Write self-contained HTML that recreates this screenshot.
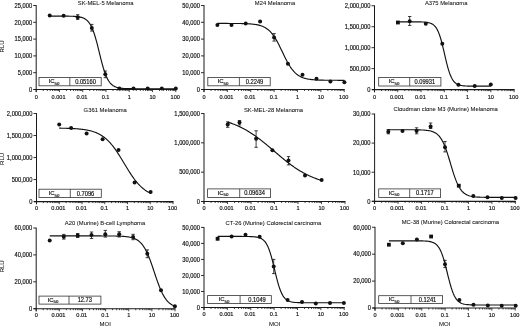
<!DOCTYPE html><html><head><meta charset="utf-8"><style>html,body{margin:0;padding:0;background:#fff;}svg{display:block;will-change:transform;} text{fill:#111;stroke:#111;stroke-width:0.18px;} text.t{stroke-width:0.06px;}</style></head><body>
<svg width="520" height="326" viewBox="0 0 520 326" font-family='"Liberation Sans", sans-serif' stroke-linejoin="round">
<rect width="520" height="326" fill="#fff"/>
<g>
<g><text class="t" transform="translate(105.7 4.75) scale(1 1)" font-size="5.85" text-anchor="middle">SK-MEL-5 Melanoma</text><path d="M36.2 5.1V92.1" stroke="#1a1a1a" stroke-width="1.0" fill="none"/><path d="M33.2 89.5H36.2" stroke="#1a1a1a" stroke-width="0.9"/><text transform="translate(32.1 91.8) scale(0.9 1)" font-size="6.39" text-anchor="end">0</text><path d="M33.2 72.7H36.2" stroke="#1a1a1a" stroke-width="0.9"/><text transform="translate(32.1 75) scale(0.9 1)" font-size="6.39" text-anchor="end">5,000</text><path d="M33.2 55.9H36.2" stroke="#1a1a1a" stroke-width="0.9"/><text transform="translate(32.1 58.2) scale(0.9 1)" font-size="6.39" text-anchor="end">10,000</text><path d="M33.2 39.1H36.2" stroke="#1a1a1a" stroke-width="0.9"/><text transform="translate(32.1 41.4) scale(0.9 1)" font-size="6.39" text-anchor="end">15,000</text><path d="M33.2 22.3H36.2" stroke="#1a1a1a" stroke-width="0.9"/><text transform="translate(32.1 24.6) scale(0.9 1)" font-size="6.39" text-anchor="end">20,000</text><path d="M33.2 5.5H36.2" stroke="#1a1a1a" stroke-width="0.9"/><text transform="translate(32.1 7.8) scale(0.9 1)" font-size="6.39" text-anchor="end">25,000</text><path d="M33.7 89.5H176.26" stroke="#1a1a1a" stroke-width="1.05" fill="none"/><path d="M36.2 89.5v2.6M43.2 89.5v1.5M47.3 89.5v1.5M50.2 89.5v1.5M52.46 89.5v1.5M54.3 89.5v1.5M55.86 89.5v1.5M57.21 89.5v1.5M58.4 89.5v1.5M59.46 89.5v2.6M66.46 89.5v1.5M70.56 89.5v1.5M73.46 89.5v1.5M75.72 89.5v1.5M77.56 89.5v1.5M79.12 89.5v1.5M80.47 89.5v1.5M81.66 89.5v1.5M82.72 89.5v2.6M89.72 89.5v1.5M93.82 89.5v1.5M96.72 89.5v1.5M98.98 89.5v1.5M100.82 89.5v1.5M102.38 89.5v1.5M103.73 89.5v1.5M104.92 89.5v1.5M105.98 89.5v2.6M112.98 89.5v1.5M117.08 89.5v1.5M119.98 89.5v1.5M122.24 89.5v1.5M124.08 89.5v1.5M125.64 89.5v1.5M126.99 89.5v1.5M128.18 89.5v1.5M129.24 89.5v2.6M136.24 89.5v1.5M140.34 89.5v1.5M143.24 89.5v1.5M145.5 89.5v1.5M147.34 89.5v1.5M148.9 89.5v1.5M150.25 89.5v1.5M151.44 89.5v1.5M152.5 89.5v2.6M159.5 89.5v1.5M163.6 89.5v1.5M166.5 89.5v1.5M168.76 89.5v1.5M170.6 89.5v1.5M172.16 89.5v1.5M173.51 89.5v1.5M174.7 89.5v1.5M175.76 89.5v2.6" stroke="#1a1a1a" stroke-width="0.8" fill="none"/><text transform="translate(36.2 98.5) scale(0.9 1)" font-size="6.22" text-anchor="middle">0</text><text transform="translate(58.56 98.5) scale(0.9 1)" font-size="6.22" text-anchor="middle">0.001</text><text transform="translate(82.02 98.5) scale(0.9 1)" font-size="6.22" text-anchor="middle">0.01</text><text transform="translate(105.58 98.5) scale(0.9 1)" font-size="6.22" text-anchor="middle">0.1</text><text transform="translate(129.24 98.5) scale(0.9 1)" font-size="6.22" text-anchor="middle">1</text><text transform="translate(152.5 98.5) scale(0.9 1)" font-size="6.22" text-anchor="middle">10</text><text transform="translate(175.26 98.5) scale(0.9 1)" font-size="6.22" text-anchor="middle">100</text><rect x="39" y="77.5" width="62.2" height="8.3" fill="#fff" stroke="#333" stroke-width="0.8" stroke-linejoin="miter"/><path d="M69.8 77.5V85.8" stroke="#333" stroke-width="0.8"/><text x="54.01" y="83.25" font-size="5.9" text-anchor="middle">IC<tspan font-size="4.3" dy="1.6">50</tspan></text><text transform="translate(85.5 83.85) scale(0.9 1)" font-size="6.39" text-anchor="middle">0.05160</text><path d="M49.7 16.11L50.75 16.11L51.8 16.11L52.85 16.11L53.9 16.11L54.95 16.11L56.01 16.11L57.06 16.11L58.11 16.12L59.16 16.12L60.21 16.12L61.26 16.12L62.31 16.13L63.36 16.13L64.41 16.14L65.46 16.14L66.51 16.15L67.56 16.17L68.62 16.18L69.67 16.2L70.72 16.22L71.77 16.25L72.82 16.29L73.87 16.34L74.92 16.41L75.97 16.48L77.02 16.58L78.07 16.71L79.12 16.87L80.17 17.07L81.23 17.32L82.28 17.64L83.33 18.04L84.38 18.54L85.43 19.16L86.48 19.93L87.53 20.89L88.58 22.06L89.63 23.49L90.68 25.22L91.73 27.28L92.78 29.7L93.84 32.52L94.89 35.72L95.94 39.29L96.99 43.18L98.04 47.31L99.09 51.57L100.14 55.86L101.19 60.06L102.24 64.05L103.29 67.76L104.34 71.11L105.39 74.07L106.45 76.65L107.5 78.85L108.55 80.71L109.6 82.25L110.65 83.52L111.7 84.55L112.75 85.4L113.8 86.07L114.85 86.62L115.9 87.05L116.95 87.4L118 87.68L119.06 87.9L120.11 88.07L121.16 88.21L122.21 88.32L123.26 88.41L124.31 88.47L125.36 88.53L126.41 88.57L127.46 88.61L128.51 88.63L129.56 88.65L130.61 88.67L131.67 88.68L132.72 88.69L133.77 88.7L134.82 88.71L135.87 88.71L136.92 88.72L137.97 88.72L139.02 88.72L140.07 88.72L141.12 88.73L142.17 88.73L143.22 88.73L144.28 88.73L145.33 88.73L146.38 88.73L147.43 88.73L148.48 88.73L149.53 88.73L150.58 88.73L151.63 88.73L152.68 88.73L153.73 88.73L154.78 88.73L155.83 88.73L156.88 88.73L157.94 88.73L158.99 88.73L160.04 88.73L161.09 88.73L162.14 88.73L163.19 88.73L164.24 88.73L165.29 88.73L166.34 88.73L167.39 88.73L168.44 88.73L169.5 88.73L170.55 88.73L171.6 88.73L172.65 88.73L173.7 88.73L174.75 88.73L175.8 88.73" stroke="#111" stroke-width="1.15" fill="none"/><path d="M77.7 14.7V19.4M76 14.7h3.4M76 19.4h3.4" stroke="#111" stroke-width="0.8" fill="none"/><path d="M91.8 24.4V31.1M90.1 24.4h3.4M90.1 31.1h3.4" stroke="#111" stroke-width="0.8" fill="none"/><path d="M105.3 71V77.7M103.6 71h3.4M103.6 77.7h3.4" stroke="#111" stroke-width="0.8" fill="none"/><circle cx="49.7" cy="15.4" r="2.0" fill="#111"/><circle cx="63.6" cy="15.8" r="2.0" fill="#111"/><circle cx="77.7" cy="17.2" r="2.0" fill="#111"/><circle cx="91.8" cy="27.9" r="2.0" fill="#111"/><circle cx="105.3" cy="74.3" r="2.0" fill="#111"/><circle cx="119.4" cy="88.4" r="2.0" fill="#111"/><circle cx="133.5" cy="88.5" r="2.0" fill="#111"/><circle cx="147.7" cy="88.5" r="2.0" fill="#111"/><circle cx="161.8" cy="88.5" r="2.0" fill="#111"/><circle cx="175.8" cy="88.5" r="2.0" fill="#111"/></g>
<g><text class="t" transform="translate(275 4.75) scale(1 1)" font-size="5.85" text-anchor="middle">M24 Melanoma</text><path d="M204 5.1V92.1" stroke="#1a1a1a" stroke-width="1.0" fill="none"/><path d="M201 89.5H204" stroke="#1a1a1a" stroke-width="0.9"/><text transform="translate(199.9 91.8) scale(0.9 1)" font-size="6.39" text-anchor="end">0</text><path d="M201 72.7H204" stroke="#1a1a1a" stroke-width="0.9"/><text transform="translate(199.9 75) scale(0.9 1)" font-size="6.39" text-anchor="end">10,000</text><path d="M201 55.9H204" stroke="#1a1a1a" stroke-width="0.9"/><text transform="translate(199.9 58.2) scale(0.9 1)" font-size="6.39" text-anchor="end">20,000</text><path d="M201 39.1H204" stroke="#1a1a1a" stroke-width="0.9"/><text transform="translate(199.9 41.4) scale(0.9 1)" font-size="6.39" text-anchor="end">30,000</text><path d="M201 22.3H204" stroke="#1a1a1a" stroke-width="0.9"/><text transform="translate(199.9 24.6) scale(0.9 1)" font-size="6.39" text-anchor="end">40,000</text><path d="M201 5.5H204" stroke="#1a1a1a" stroke-width="0.9"/><text transform="translate(199.9 7.8) scale(0.9 1)" font-size="6.39" text-anchor="end">50,000</text><path d="M201.5 89.5H344.72" stroke="#1a1a1a" stroke-width="1.05" fill="none"/><path d="M204 89.5v2.6M211.04 89.5v1.5M215.15 89.5v1.5M218.07 89.5v1.5M220.33 89.5v1.5M222.19 89.5v1.5M223.75 89.5v1.5M225.11 89.5v1.5M226.3 89.5v1.5M227.37 89.5v2.6M234.41 89.5v1.5M238.52 89.5v1.5M241.44 89.5v1.5M243.7 89.5v1.5M245.56 89.5v1.5M247.12 89.5v1.5M248.48 89.5v1.5M249.67 89.5v1.5M250.74 89.5v2.6M257.78 89.5v1.5M261.89 89.5v1.5M264.81 89.5v1.5M267.07 89.5v1.5M268.93 89.5v1.5M270.49 89.5v1.5M271.85 89.5v1.5M273.04 89.5v1.5M274.11 89.5v2.6M281.15 89.5v1.5M285.26 89.5v1.5M288.18 89.5v1.5M290.44 89.5v1.5M292.3 89.5v1.5M293.86 89.5v1.5M295.22 89.5v1.5M296.41 89.5v1.5M297.48 89.5v2.6M304.52 89.5v1.5M308.63 89.5v1.5M311.55 89.5v1.5M313.81 89.5v1.5M315.67 89.5v1.5M317.23 89.5v1.5M318.59 89.5v1.5M319.78 89.5v1.5M320.85 89.5v2.6M327.89 89.5v1.5M332 89.5v1.5M334.92 89.5v1.5M337.18 89.5v1.5M339.04 89.5v1.5M340.6 89.5v1.5M341.96 89.5v1.5M343.15 89.5v1.5M344.22 89.5v2.6" stroke="#1a1a1a" stroke-width="0.8" fill="none"/><text transform="translate(204 98.5) scale(0.9 1)" font-size="6.22" text-anchor="middle">0</text><text transform="translate(226.47 98.5) scale(0.9 1)" font-size="6.22" text-anchor="middle">0.001</text><text transform="translate(250.04 98.5) scale(0.9 1)" font-size="6.22" text-anchor="middle">0.01</text><text transform="translate(273.71 98.5) scale(0.9 1)" font-size="6.22" text-anchor="middle">0.1</text><text transform="translate(297.48 98.5) scale(0.9 1)" font-size="6.22" text-anchor="middle">1</text><text transform="translate(320.85 98.5) scale(0.9 1)" font-size="6.22" text-anchor="middle">10</text><text transform="translate(343.72 98.5) scale(0.9 1)" font-size="6.22" text-anchor="middle">100</text><rect x="207.8" y="77.5" width="62.4" height="8.3" fill="#fff" stroke="#333" stroke-width="0.8" stroke-linejoin="miter"/><path d="M239.4 77.5V85.8" stroke="#333" stroke-width="0.8"/><text x="223.01" y="83.25" font-size="5.9" text-anchor="middle">IC<tspan font-size="4.3" dy="1.6">50</tspan></text><text transform="translate(254.5 83.85) scale(0.9 1)" font-size="6.39" text-anchor="middle">0.2249</text><path d="M217.4 23.43L218.46 23.43L219.52 23.43L220.58 23.43L221.63 23.43L222.69 23.43L223.75 23.43L224.81 23.44L225.87 23.44L226.93 23.44L227.98 23.44L229.04 23.45L230.1 23.45L231.16 23.45L232.22 23.46L233.28 23.47L234.33 23.47L235.39 23.48L236.45 23.49L237.51 23.5L238.57 23.51L239.62 23.53L240.68 23.55L241.74 23.57L242.8 23.59L243.86 23.62L244.92 23.65L245.97 23.69L247.03 23.74L248.09 23.79L249.15 23.85L250.21 23.92L251.27 24.01L252.32 24.1L253.38 24.22L254.44 24.35L255.5 24.5L256.56 24.68L257.62 24.88L258.68 25.12L259.73 25.4L260.79 25.72L261.85 26.08L262.91 26.51L263.97 27L265.02 27.55L266.08 28.19L267.14 28.92L268.2 29.74L269.26 30.67L270.32 31.71L271.38 32.88L272.43 34.17L273.49 35.59L274.55 37.15L275.61 38.84L276.67 40.65L277.72 42.57L278.78 44.6L279.84 46.71L280.9 48.88L281.96 51.08L283.02 53.29L284.07 55.49L285.13 57.64L286.19 59.73L287.25 61.73L288.31 63.62L289.37 65.4L290.43 67.05L291.48 68.57L292.54 69.95L293.6 71.21L294.66 72.34L295.72 73.35L296.77 74.24L297.83 75.04L298.89 75.74L299.95 76.35L301.01 76.89L302.07 77.36L303.12 77.77L304.18 78.12L305.24 78.43L306.3 78.69L307.36 78.92L308.42 79.12L309.48 79.29L310.53 79.43L311.59 79.56L312.65 79.67L313.71 79.76L314.77 79.84L315.82 79.91L316.88 79.97L317.94 80.02L319 80.06L320.06 80.1L321.12 80.13L322.17 80.15L323.23 80.18L324.29 80.2L325.35 80.21L326.41 80.23L327.47 80.24L328.52 80.25L329.58 80.26L330.64 80.27L331.7 80.28L332.76 80.28L333.82 80.29L334.88 80.29L335.93 80.29L336.99 80.3L338.05 80.3L339.11 80.3L340.17 80.3L341.22 80.31L342.28 80.31L343.34 80.31L344.4 80.31" stroke="#111" stroke-width="1.15" fill="none"/><path d="M274.1 33.6V41.1M272.4 33.6h3.4M272.4 41.1h3.4" stroke="#111" stroke-width="0.8" fill="none"/><circle cx="217.4" cy="25.1" r="2.0" fill="#111"/><circle cx="231.5" cy="25.1" r="2.0" fill="#111"/><circle cx="245.7" cy="23.5" r="2.0" fill="#111"/><circle cx="260.1" cy="21.4" r="2.0" fill="#111"/><circle cx="274.1" cy="37.4" r="2.0" fill="#111"/><circle cx="287.9" cy="63.7" r="2.0" fill="#111"/><circle cx="302.5" cy="74.8" r="2.0" fill="#111"/><circle cx="316.5" cy="78.7" r="2.0" fill="#111"/><circle cx="330.4" cy="81.5" r="2.0" fill="#111"/><circle cx="344.4" cy="82.3" r="2.0" fill="#111"/></g>
<g><text class="t" transform="translate(446.2 4.75) scale(1 1)" font-size="5.85" text-anchor="middle">A375 Melanoma</text><path d="M374.5 5.35V92.2" stroke="#1a1a1a" stroke-width="1.0" fill="none"/><path d="M371.5 89.6H374.5" stroke="#1a1a1a" stroke-width="0.9"/><text transform="translate(370.4 91.9) scale(0.9 1)" font-size="6.39" text-anchor="end">0</text><path d="M371.5 68.64H374.5" stroke="#1a1a1a" stroke-width="0.9"/><text transform="translate(370.4 70.94) scale(0.9 1)" font-size="6.39" text-anchor="end">500,000</text><path d="M371.5 47.67H374.5" stroke="#1a1a1a" stroke-width="0.9"/><text transform="translate(370.4 49.97) scale(0.9 1)" font-size="6.39" text-anchor="end">1,000,000</text><path d="M371.5 26.71H374.5" stroke="#1a1a1a" stroke-width="0.9"/><text transform="translate(370.4 29.01) scale(0.9 1)" font-size="6.39" text-anchor="end">1,500,000</text><path d="M371.5 5.75H374.5" stroke="#1a1a1a" stroke-width="0.9"/><text transform="translate(370.4 8.05) scale(0.9 1)" font-size="6.39" text-anchor="end">2,000,000</text><path d="M372 89.6H514.62" stroke="#1a1a1a" stroke-width="1.05" fill="none"/><path d="M374.5 89.6v2.6M381.5 89.6v1.5M385.6 89.6v1.5M388.51 89.6v1.5M390.77 89.6v1.5M392.61 89.6v1.5M394.17 89.6v1.5M395.51 89.6v1.5M396.71 89.6v1.5M397.77 89.6v2.6M404.77 89.6v1.5M408.87 89.6v1.5M411.78 89.6v1.5M414.04 89.6v1.5M415.88 89.6v1.5M417.44 89.6v1.5M418.78 89.6v1.5M419.98 89.6v1.5M421.04 89.6v2.6M428.04 89.6v1.5M432.14 89.6v1.5M435.05 89.6v1.5M437.31 89.6v1.5M439.15 89.6v1.5M440.71 89.6v1.5M442.05 89.6v1.5M443.25 89.6v1.5M444.31 89.6v2.6M451.31 89.6v1.5M455.41 89.6v1.5M458.32 89.6v1.5M460.58 89.6v1.5M462.42 89.6v1.5M463.98 89.6v1.5M465.32 89.6v1.5M466.52 89.6v1.5M467.58 89.6v2.6M474.58 89.6v1.5M478.68 89.6v1.5M481.59 89.6v1.5M483.85 89.6v1.5M485.69 89.6v1.5M487.25 89.6v1.5M488.59 89.6v1.5M489.79 89.6v1.5M490.85 89.6v2.6M497.85 89.6v1.5M501.95 89.6v1.5M504.86 89.6v1.5M507.12 89.6v1.5M508.96 89.6v1.5M510.52 89.6v1.5M511.86 89.6v1.5M513.06 89.6v1.5M514.12 89.6v2.6" stroke="#1a1a1a" stroke-width="0.8" fill="none"/><text transform="translate(374.5 98.6) scale(0.9 1)" font-size="6.22" text-anchor="middle">0</text><text transform="translate(396.87 98.6) scale(0.9 1)" font-size="6.22" text-anchor="middle">0.001</text><text transform="translate(420.34 98.6) scale(0.9 1)" font-size="6.22" text-anchor="middle">0.01</text><text transform="translate(443.91 98.6) scale(0.9 1)" font-size="6.22" text-anchor="middle">0.1</text><text transform="translate(467.58 98.6) scale(0.9 1)" font-size="6.22" text-anchor="middle">1</text><text transform="translate(490.85 98.6) scale(0.9 1)" font-size="6.22" text-anchor="middle">10</text><text transform="translate(513.62 98.6) scale(0.9 1)" font-size="6.22" text-anchor="middle">100</text><rect x="378.7" y="77.4" width="62.2" height="8.6" fill="#fff" stroke="#333" stroke-width="0.8" stroke-linejoin="miter"/><path d="M409.7 77.4V86" stroke="#333" stroke-width="0.8"/><text x="394.01" y="83.3" font-size="5.9" text-anchor="middle">IC<tspan font-size="4.3" dy="1.6">50</tspan></text><text transform="translate(424.8 83.9) scale(0.9 1)" font-size="6.39" text-anchor="middle">0.09931</text><path d="M397.9 21.82L398.67 21.82L399.45 21.82L400.22 21.82L401 21.82L401.77 21.82L402.54 21.82L403.32 21.82L404.09 21.82L404.87 21.82L405.64 21.82L406.42 21.82L407.19 21.82L407.96 21.83L408.74 21.83L409.51 21.83L410.29 21.83L411.06 21.83L411.83 21.83L412.61 21.83L413.38 21.84L414.16 21.84L414.93 21.84L415.71 21.85L416.48 21.85L417.25 21.86L418.03 21.87L418.8 21.88L419.58 21.9L420.35 21.91L421.12 21.93L421.9 21.96L422.67 21.99L423.45 22.03L424.22 22.08L425 22.14L425.77 22.22L426.54 22.31L427.32 22.42L428.09 22.56L428.87 22.73L429.64 22.94L430.41 23.19L431.19 23.5L431.96 23.88L432.74 24.34L433.51 24.9L434.29 25.58L435.06 26.39L435.83 27.37L436.61 28.53L437.38 29.9L438.16 31.5L438.93 33.36L439.7 35.48L440.48 37.87L441.25 40.53L442.03 43.43L442.8 46.54L443.58 49.8L444.35 53.15L445.12 56.53L445.9 59.84L446.67 63.04L447.45 66.05L448.22 68.83L449 71.36L449.77 73.62L450.54 75.61L451.32 77.34L452.09 78.82L452.87 80.08L453.64 81.15L454.41 82.04L455.19 82.78L455.96 83.4L456.74 83.91L457.51 84.33L458.28 84.67L459.06 84.96L459.83 85.19L460.61 85.37L461.38 85.53L462.16 85.65L462.93 85.75L463.7 85.84L464.48 85.9L465.25 85.96L466.03 86L466.8 86.04L467.57 86.07L468.35 86.09L469.12 86.11L469.9 86.12L470.67 86.14L471.45 86.15L472.22 86.16L472.99 86.16L473.77 86.17L474.54 86.17L475.32 86.18L476.09 86.18L476.87 86.18L477.64 86.18L478.41 86.18L479.19 86.19L479.96 86.19L480.74 86.19L481.51 86.19L482.28 86.19L483.06 86.19L483.83 86.19L484.61 86.19L485.38 86.19L486.16 86.19L486.93 86.19L487.7 86.19L488.48 86.19L489.25 86.19L490.03 86.19L490.8 86.19" stroke="#111" stroke-width="1.15" fill="none"/><path d="M409.7 16.5V25.4M408 16.5h3.4M408 25.4h3.4" stroke="#111" stroke-width="0.8" fill="none"/><rect x="396" y="20.6" width="3.8" height="3.8" fill="#111"/><circle cx="409.7" cy="21.25" r="2.0" fill="#111"/><circle cx="425.8" cy="23.8" r="2.0" fill="#111"/><circle cx="442.3" cy="43.7" r="2.0" fill="#111"/><circle cx="458.4" cy="84.8" r="2.0" fill="#111"/><circle cx="474.7" cy="86" r="2.0" fill="#111"/><circle cx="490.8" cy="84.4" r="2.0" fill="#111"/></g>
<g><text class="t" transform="translate(105.2 112.4) scale(1 1)" font-size="5.85" text-anchor="middle">G361 Melanoma</text><path d="M36.5 113.1V204.2" stroke="#1a1a1a" stroke-width="1.0" fill="none"/><path d="M33.5 201.6H36.5" stroke="#1a1a1a" stroke-width="0.9"/><text transform="translate(32.4 203.9) scale(0.9 1)" font-size="6.39" text-anchor="end">0</text><path d="M33.5 179.57H36.5" stroke="#1a1a1a" stroke-width="0.9"/><text transform="translate(32.4 181.88) scale(0.9 1)" font-size="6.39" text-anchor="end">500,000</text><path d="M33.5 157.55H36.5" stroke="#1a1a1a" stroke-width="0.9"/><text transform="translate(32.4 159.85) scale(0.9 1)" font-size="6.39" text-anchor="end">1,000,000</text><path d="M33.5 135.53H36.5" stroke="#1a1a1a" stroke-width="0.9"/><text transform="translate(32.4 137.83) scale(0.9 1)" font-size="6.39" text-anchor="end">1,500,000</text><path d="M33.5 113.5H36.5" stroke="#1a1a1a" stroke-width="0.9"/><text transform="translate(32.4 115.8) scale(0.9 1)" font-size="6.39" text-anchor="end">2,000,000</text><path d="M34 201.6H173.5" stroke="#1a1a1a" stroke-width="1.05" fill="none"/><path d="M36.5 201.6v2.6M43.35 201.6v1.5M47.35 201.6v1.5M50.2 201.6v1.5M52.4 201.6v1.5M54.2 201.6v1.5M55.73 201.6v1.5M57.05 201.6v1.5M58.21 201.6v1.5M59.25 201.6v2.6M66.1 201.6v1.5M70.1 201.6v1.5M72.95 201.6v1.5M75.15 201.6v1.5M76.95 201.6v1.5M78.48 201.6v1.5M79.8 201.6v1.5M80.96 201.6v1.5M82 201.6v2.6M88.85 201.6v1.5M92.85 201.6v1.5M95.7 201.6v1.5M97.9 201.6v1.5M99.7 201.6v1.5M101.23 201.6v1.5M102.55 201.6v1.5M103.71 201.6v1.5M104.75 201.6v2.6M111.6 201.6v1.5M115.6 201.6v1.5M118.45 201.6v1.5M120.65 201.6v1.5M122.45 201.6v1.5M123.98 201.6v1.5M125.3 201.6v1.5M126.46 201.6v1.5M127.5 201.6v2.6M134.35 201.6v1.5M138.35 201.6v1.5M141.2 201.6v1.5M143.4 201.6v1.5M145.2 201.6v1.5M146.73 201.6v1.5M148.05 201.6v1.5M149.21 201.6v1.5M150.25 201.6v2.6M157.1 201.6v1.5M161.1 201.6v1.5M163.95 201.6v1.5M166.15 201.6v1.5M167.95 201.6v1.5M169.48 201.6v1.5M170.8 201.6v1.5M171.96 201.6v1.5M173 201.6v2.6" stroke="#1a1a1a" stroke-width="0.8" fill="none"/><text transform="translate(36.5 210.05) scale(0.9 1)" font-size="6.22" text-anchor="middle">0</text><text transform="translate(58.35 210.05) scale(0.9 1)" font-size="6.22" text-anchor="middle">0.001</text><text transform="translate(81.3 210.05) scale(0.9 1)" font-size="6.22" text-anchor="middle">0.01</text><text transform="translate(104.35 210.05) scale(0.9 1)" font-size="6.22" text-anchor="middle">0.1</text><text transform="translate(127.5 210.05) scale(0.9 1)" font-size="6.22" text-anchor="middle">1</text><text transform="translate(150.25 210.05) scale(0.9 1)" font-size="6.22" text-anchor="middle">10</text><text transform="translate(172.5 210.05) scale(0.9 1)" font-size="6.22" text-anchor="middle">100</text><rect x="39" y="189.2" width="62.3" height="8.3" fill="#fff" stroke="#333" stroke-width="0.8" stroke-linejoin="miter"/><path d="M70.3 189.2V197.5" stroke="#333" stroke-width="0.8"/><text x="54.01" y="194.95" font-size="5.9" text-anchor="middle">IC<tspan font-size="4.3" dy="1.6">50</tspan></text><text transform="translate(85.5 195.55) scale(0.9 1)" font-size="6.39" text-anchor="middle">0.7096</text><path d="M59.2 128.16L59.96 128.17L60.72 128.18L61.48 128.2L62.25 128.21L63.01 128.22L63.77 128.24L64.53 128.26L65.29 128.28L66.06 128.3L66.82 128.32L67.58 128.34L68.34 128.37L69.1 128.39L69.86 128.42L70.62 128.45L71.39 128.49L72.15 128.52L72.91 128.56L73.67 128.6L74.43 128.65L75.2 128.69L75.96 128.74L76.72 128.8L77.48 128.86L78.24 128.92L79 128.99L79.77 129.06L80.53 129.13L81.29 129.22L82.05 129.31L82.81 129.4L83.57 129.5L84.34 129.61L85.1 129.73L85.86 129.85L86.62 129.99L87.38 130.13L88.14 130.29L88.91 130.45L89.67 130.63L90.43 130.81L91.19 131.01L91.95 131.23L92.71 131.46L93.47 131.7L94.24 131.96L95 132.24L95.76 132.54L96.52 132.85L97.28 133.19L98.05 133.54L98.81 133.92L99.57 134.32L100.33 134.75L101.09 135.2L101.85 135.68L102.61 136.19L103.38 136.72L104.14 137.29L104.9 137.88L105.66 138.51L106.42 139.17L107.19 139.86L107.95 140.59L108.71 141.35L109.47 142.15L110.23 142.98L110.99 143.85L111.75 144.75L112.52 145.69L113.28 146.66L114.04 147.66L114.8 148.7L115.56 149.77L116.32 150.87L117.09 152L117.85 153.15L118.61 154.33L119.37 155.52L120.13 156.74L120.9 157.98L121.66 159.22L122.42 160.48L123.18 161.75L123.94 163.02L124.7 164.29L125.47 165.56L126.23 166.82L126.99 168.07L127.75 169.31L128.51 170.54L129.27 171.75L130.03 172.93L130.8 174.1L131.56 175.24L132.32 176.35L133.08 177.43L133.84 178.48L134.6 179.5L135.37 180.49L136.13 181.44L136.89 182.36L137.65 183.24L138.41 184.09L139.18 184.9L139.94 185.68L140.7 186.42L141.46 187.13L142.22 187.8L142.98 188.44L143.75 189.05L144.51 189.63L145.27 190.18L146.03 190.7L146.79 191.19L147.55 191.65L148.31 192.09L149.08 192.5L149.84 192.89L150.6 193.26" stroke="#111" stroke-width="1.15" fill="none"/><circle cx="59.2" cy="124.5" r="2.0" fill="#111"/><circle cx="71.1" cy="127.9" r="2.0" fill="#111"/><circle cx="86.6" cy="133.5" r="2.0" fill="#111"/><circle cx="102.6" cy="139.2" r="2.0" fill="#111"/><circle cx="118.5" cy="150" r="2.0" fill="#111"/><circle cx="134.6" cy="182.6" r="2.0" fill="#111"/><circle cx="150.6" cy="192" r="2.0" fill="#111"/></g>
<g><text class="t" transform="translate(273.5 111.8) scale(1 1)" font-size="5.85" text-anchor="middle">SK-MEL-28 Melanoma</text><path d="M204 113.1V204.1" stroke="#1a1a1a" stroke-width="1.0" fill="none"/><path d="M201 201.5H204" stroke="#1a1a1a" stroke-width="0.9"/><text transform="translate(199.9 203.8) scale(0.9 1)" font-size="6.39" text-anchor="end">0</text><path d="M201 172.17H204" stroke="#1a1a1a" stroke-width="0.9"/><text transform="translate(199.9 174.47) scale(0.9 1)" font-size="6.39" text-anchor="end">500,000</text><path d="M201 142.83H204" stroke="#1a1a1a" stroke-width="0.9"/><text transform="translate(199.9 145.13) scale(0.9 1)" font-size="6.39" text-anchor="end">1,000,000</text><path d="M201 113.5H204" stroke="#1a1a1a" stroke-width="0.9"/><text transform="translate(199.9 115.8) scale(0.9 1)" font-size="6.39" text-anchor="end">1,500,000</text><path d="M201.5 201.5H345.5" stroke="#1a1a1a" stroke-width="1.05" fill="none"/><path d="M204 201.5v2.6M211.07 201.5v1.5M215.21 201.5v1.5M218.15 201.5v1.5M220.43 201.5v1.5M222.29 201.5v1.5M223.86 201.5v1.5M225.22 201.5v1.5M226.42 201.5v1.5M227.5 201.5v2.6M234.57 201.5v1.5M238.71 201.5v1.5M241.65 201.5v1.5M243.93 201.5v1.5M245.79 201.5v1.5M247.36 201.5v1.5M248.72 201.5v1.5M249.92 201.5v1.5M251 201.5v2.6M258.07 201.5v1.5M262.21 201.5v1.5M265.15 201.5v1.5M267.43 201.5v1.5M269.29 201.5v1.5M270.86 201.5v1.5M272.22 201.5v1.5M273.42 201.5v1.5M274.5 201.5v2.6M281.57 201.5v1.5M285.71 201.5v1.5M288.65 201.5v1.5M290.93 201.5v1.5M292.79 201.5v1.5M294.36 201.5v1.5M295.72 201.5v1.5M296.92 201.5v1.5M298 201.5v2.6M305.07 201.5v1.5M309.21 201.5v1.5M312.15 201.5v1.5M314.43 201.5v1.5M316.29 201.5v1.5M317.86 201.5v1.5M319.22 201.5v1.5M320.42 201.5v1.5M321.5 201.5v2.6M328.57 201.5v1.5M332.71 201.5v1.5M335.65 201.5v1.5M337.93 201.5v1.5M339.79 201.5v1.5M341.36 201.5v1.5M342.72 201.5v1.5M343.92 201.5v1.5M345 201.5v2.6" stroke="#1a1a1a" stroke-width="0.8" fill="none"/><text transform="translate(204 209.95) scale(0.9 1)" font-size="6.22" text-anchor="middle">0</text><text transform="translate(226.6 209.95) scale(0.9 1)" font-size="6.22" text-anchor="middle">0.001</text><text transform="translate(250.3 209.95) scale(0.9 1)" font-size="6.22" text-anchor="middle">0.01</text><text transform="translate(274.1 209.95) scale(0.9 1)" font-size="6.22" text-anchor="middle">0.1</text><text transform="translate(298 209.95) scale(0.9 1)" font-size="6.22" text-anchor="middle">1</text><text transform="translate(321.5 209.95) scale(0.9 1)" font-size="6.22" text-anchor="middle">10</text><text transform="translate(344.5 209.95) scale(0.9 1)" font-size="6.22" text-anchor="middle">100</text><rect x="207.6" y="188.9" width="63" height="8.6" fill="#fff" stroke="#333" stroke-width="0.8" stroke-linejoin="miter"/><path d="M239.7 188.9V197.5" stroke="#333" stroke-width="0.8"/><text x="223.01" y="194.8" font-size="5.9" text-anchor="middle">IC<tspan font-size="4.3" dy="1.6">50</tspan></text><text transform="translate(254.5 195.4) scale(0.9 1)" font-size="6.39" text-anchor="middle">0.09634</text><path d="M227.7 122.1L228.48 122.34L229.26 122.6L230.05 122.86L230.83 123.13L231.61 123.4L232.39 123.69L233.18 123.98L233.96 124.28L234.74 124.59L235.52 124.91L236.31 125.23L237.09 125.57L237.87 125.91L238.66 126.26L239.44 126.63L240.22 127L241 127.38L241.78 127.76L242.57 128.16L243.35 128.57L244.13 128.99L244.91 129.41L245.7 129.85L246.48 130.3L247.26 130.75L248.04 131.22L248.83 131.69L249.61 132.17L250.39 132.67L251.18 133.17L251.96 133.68L252.74 134.2L253.52 134.73L254.31 135.27L255.09 135.82L255.87 136.37L256.65 136.93L257.44 137.51L258.22 138.09L259 138.68L259.78 139.27L260.56 139.87L261.35 140.48L262.13 141.1L262.91 141.72L263.69 142.35L264.48 142.98L265.26 143.62L266.04 144.27L266.82 144.92L267.61 145.57L268.39 146.22L269.17 146.88L269.95 147.55L270.74 148.21L271.52 148.88L272.3 149.55L273.08 150.22L273.87 150.89L274.65 151.56L275.43 152.23L276.22 152.89L277 153.56L277.78 154.23L278.56 154.89L279.35 155.55L280.13 156.21L280.91 156.87L281.69 157.52L282.48 158.17L283.26 158.81L284.04 159.44L284.82 160.08L285.61 160.7L286.39 161.32L287.17 161.94L287.95 162.54L288.74 163.14L289.52 163.74L290.3 164.32L291.08 164.9L291.87 165.47L292.65 166.03L293.43 166.58L294.21 167.13L295 167.66L295.78 168.19L296.56 168.71L297.34 169.21L298.12 169.71L298.91 170.2L299.69 170.68L300.47 171.15L301.25 171.61L302.04 172.07L302.82 172.51L303.6 172.94L304.38 173.36L305.17 173.78L305.95 174.18L306.73 174.58L307.51 174.96L308.3 175.34L309.08 175.71L309.86 176.06L310.64 176.41L311.43 176.75L312.21 177.09L312.99 177.41L313.78 177.72L314.56 178.03L315.34 178.33L316.12 178.62L316.91 178.9L317.69 179.17L318.47 179.44L319.25 179.7L320.04 179.95L320.82 180.19L321.6 180.43" stroke="#111" stroke-width="1.15" fill="none"/><path d="M227.7 121.9V127.3M226 121.9h3.4M226 127.3h3.4" stroke="#111" stroke-width="0.8" fill="none"/><path d="M239.5 120.5V125M237.8 120.5h3.4M237.8 125h3.4" stroke="#111" stroke-width="0.8" fill="none"/><path d="M256.1 130.8V147.3M254.4 130.8h3.4M254.4 147.3h3.4" stroke="#111" stroke-width="0.8" fill="none"/><path d="M288.5 156.6V164.9M286.8 156.6h3.4M286.8 164.9h3.4" stroke="#111" stroke-width="0.8" fill="none"/><circle cx="227.7" cy="124.5" r="2.0" fill="#111"/><circle cx="239.5" cy="122.4" r="2.0" fill="#111"/><circle cx="256.1" cy="138.8" r="2.0" fill="#111"/><circle cx="272.4" cy="150.3" r="2.0" fill="#111"/><circle cx="288.5" cy="160.5" r="2.0" fill="#111"/><circle cx="305" cy="175.4" r="2.0" fill="#111"/><circle cx="321.6" cy="180.1" r="2.0" fill="#111"/></g>
<g><text class="t" transform="translate(445.7 110.8) scale(1 1)" font-size="5.85" text-anchor="middle">Cloudman clone M3 (Murine) Melanoma</text><path d="M374.6 113.6V203.95" stroke="#1a1a1a" stroke-width="1.0" fill="none"/><path d="M371.6 201.35H374.6" stroke="#1a1a1a" stroke-width="0.9"/><text transform="translate(370.5 203.65) scale(0.9 1)" font-size="6.39" text-anchor="end">0</text><path d="M371.6 172.23H374.6" stroke="#1a1a1a" stroke-width="0.9"/><text transform="translate(370.5 174.53) scale(0.9 1)" font-size="6.39" text-anchor="end">10,000</text><path d="M371.6 143.12H374.6" stroke="#1a1a1a" stroke-width="0.9"/><text transform="translate(370.5 145.42) scale(0.9 1)" font-size="6.39" text-anchor="end">20,000</text><path d="M371.6 114H374.6" stroke="#1a1a1a" stroke-width="0.9"/><text transform="translate(370.5 116.3) scale(0.9 1)" font-size="6.39" text-anchor="end">30,000</text><path d="M372.1 201.35H515.92" stroke="#1a1a1a" stroke-width="1.05" fill="none"/><path d="M374.6 201.35v2.6M381.67 201.35v1.5M385.8 201.35v1.5M388.73 201.35v1.5M391 201.35v1.5M392.86 201.35v1.5M394.43 201.35v1.5M395.8 201.35v1.5M397 201.35v1.5M398.07 201.35v2.6M405.14 201.35v1.5M409.27 201.35v1.5M412.2 201.35v1.5M414.47 201.35v1.5M416.33 201.35v1.5M417.9 201.35v1.5M419.27 201.35v1.5M420.47 201.35v1.5M421.54 201.35v2.6M428.61 201.35v1.5M432.74 201.35v1.5M435.67 201.35v1.5M437.94 201.35v1.5M439.8 201.35v1.5M441.37 201.35v1.5M442.74 201.35v1.5M443.94 201.35v1.5M445.01 201.35v2.6M452.08 201.35v1.5M456.21 201.35v1.5M459.14 201.35v1.5M461.41 201.35v1.5M463.27 201.35v1.5M464.84 201.35v1.5M466.21 201.35v1.5M467.41 201.35v1.5M468.48 201.35v2.6M475.55 201.35v1.5M479.68 201.35v1.5M482.61 201.35v1.5M484.88 201.35v1.5M486.74 201.35v1.5M488.31 201.35v1.5M489.68 201.35v1.5M490.88 201.35v1.5M491.95 201.35v2.6M499.02 201.35v1.5M503.15 201.35v1.5M506.08 201.35v1.5M508.35 201.35v1.5M510.21 201.35v1.5M511.78 201.35v1.5M513.15 201.35v1.5M514.35 201.35v1.5M515.42 201.35v2.6" stroke="#1a1a1a" stroke-width="0.8" fill="none"/><text transform="translate(374.6 209.8) scale(0.9 1)" font-size="6.22" text-anchor="middle">0</text><text transform="translate(397.17 209.8) scale(0.9 1)" font-size="6.22" text-anchor="middle">0.001</text><text transform="translate(420.84 209.8) scale(0.9 1)" font-size="6.22" text-anchor="middle">0.01</text><text transform="translate(444.61 209.8) scale(0.9 1)" font-size="6.22" text-anchor="middle">0.1</text><text transform="translate(468.48 209.8) scale(0.9 1)" font-size="6.22" text-anchor="middle">1</text><text transform="translate(491.95 209.8) scale(0.9 1)" font-size="6.22" text-anchor="middle">10</text><text transform="translate(514.92 209.8) scale(0.9 1)" font-size="6.22" text-anchor="middle">100</text><rect x="378.7" y="188.9" width="61.9" height="8.6" fill="#fff" stroke="#333" stroke-width="0.8" stroke-linejoin="miter"/><path d="M409.7 188.9V197.5" stroke="#333" stroke-width="0.8"/><text x="394.01" y="194.8" font-size="5.9" text-anchor="middle">IC<tspan font-size="4.3" dy="1.6">50</tspan></text><text transform="translate(424.8 195.4) scale(0.9 1)" font-size="6.39" text-anchor="middle">0.1717</text><path d="M388.3 129.76L389.36 129.76L390.42 129.76L391.48 129.76L392.54 129.76L393.6 129.76L394.67 129.76L395.73 129.76L396.79 129.76L397.85 129.76L398.91 129.76L399.97 129.76L401.03 129.76L402.09 129.76L403.15 129.76L404.21 129.76L405.27 129.77L406.33 129.77L407.4 129.77L408.46 129.77L409.52 129.78L410.58 129.78L411.64 129.79L412.7 129.79L413.76 129.8L414.82 129.81L415.88 129.82L416.94 129.84L418 129.86L419.06 129.88L420.12 129.91L421.19 129.95L422.25 130L423.31 130.05L424.37 130.12L425.43 130.21L426.49 130.32L427.55 130.45L428.61 130.61L429.67 130.8L430.73 131.04L431.79 131.34L432.86 131.7L433.92 132.14L434.98 132.68L436.04 133.33L437.1 134.12L438.16 135.06L439.22 136.19L440.28 137.54L441.34 139.11L442.4 140.95L443.46 143.07L444.52 145.47L445.59 148.17L446.65 151.13L447.71 154.33L448.77 157.73L449.83 161.25L450.89 164.82L451.95 168.36L453.01 171.8L454.07 175.06L455.13 178.11L456.19 180.88L457.25 183.38L458.32 185.58L459.38 187.5L460.44 189.16L461.5 190.57L462.56 191.76L463.62 192.76L464.68 193.59L465.74 194.28L466.8 194.85L467.86 195.32L468.92 195.7L469.98 196.02L471.05 196.28L472.11 196.49L473.17 196.66L474.23 196.79L475.29 196.91L476.35 197L477.41 197.07L478.47 197.13L479.53 197.18L480.59 197.22L481.65 197.25L482.71 197.28L483.78 197.3L484.84 197.32L485.9 197.33L486.96 197.34L488.02 197.35L489.08 197.36L490.14 197.36L491.2 197.37L492.26 197.37L493.32 197.38L494.38 197.38L495.44 197.38L496.5 197.38L497.57 197.38L498.63 197.38L499.69 197.38L500.75 197.39L501.81 197.39L502.87 197.39L503.93 197.39L504.99 197.39L506.05 197.39L507.11 197.39L508.17 197.39L509.24 197.39L510.3 197.39L511.36 197.39L512.42 197.39L513.48 197.39L514.54 197.39L515.6 197.39" stroke="#111" stroke-width="1.15" fill="none"/><path d="M388.3 129.5V133.8M386.6 129.5h3.4M386.6 133.8h3.4" stroke="#111" stroke-width="0.8" fill="none"/><path d="M416.6 127.8V133.8M414.9 127.8h3.4M414.9 133.8h3.4" stroke="#111" stroke-width="0.8" fill="none"/><path d="M430.6 123V128.5M428.9 123h3.4M428.9 128.5h3.4" stroke="#111" stroke-width="0.8" fill="none"/><path d="M445 141.5V151.9M443.3 141.5h3.4M443.3 151.9h3.4" stroke="#111" stroke-width="0.8" fill="none"/><circle cx="388.3" cy="131.8" r="2.0" fill="#111"/><circle cx="402.5" cy="130.9" r="2.0" fill="#111"/><circle cx="416.6" cy="130.9" r="2.0" fill="#111"/><circle cx="430.6" cy="126.4" r="2.0" fill="#111"/><circle cx="445" cy="147.2" r="2.0" fill="#111"/><rect x="456.9" y="183.8" width="3.8" height="3.8" fill="#111"/><circle cx="473.3" cy="196" r="2.0" fill="#111"/><circle cx="487.5" cy="197.2" r="2.0" fill="#111"/><circle cx="501.8" cy="198.1" r="2.0" fill="#111"/><circle cx="515.6" cy="198.1" r="2.0" fill="#111"/></g>
<g><text class="t" transform="translate(105 224.6) scale(1 1)" font-size="5.85" text-anchor="middle">A20 (Murine) B-cell Lymphoma</text><path d="M36.2 227.6V311.3" stroke="#1a1a1a" stroke-width="1.0" fill="none"/><path d="M33.2 308.7H36.2" stroke="#1a1a1a" stroke-width="0.9"/><text transform="translate(32.1 311) scale(0.9 1)" font-size="6.39" text-anchor="end">0</text><path d="M33.2 281.8H36.2" stroke="#1a1a1a" stroke-width="0.9"/><text transform="translate(32.1 284.1) scale(0.9 1)" font-size="6.39" text-anchor="end">20,000</text><path d="M33.2 254.9H36.2" stroke="#1a1a1a" stroke-width="0.9"/><text transform="translate(32.1 257.2) scale(0.9 1)" font-size="6.39" text-anchor="end">40,000</text><path d="M33.2 228H36.2" stroke="#1a1a1a" stroke-width="0.9"/><text transform="translate(32.1 230.3) scale(0.9 1)" font-size="6.39" text-anchor="end">60,000</text><path d="M33.7 308.7H175.54" stroke="#1a1a1a" stroke-width="1.05" fill="none"/><path d="M36.2 308.7v2.6M43.17 308.7v1.5M47.24 308.7v1.5M50.13 308.7v1.5M52.37 308.7v1.5M54.21 308.7v1.5M55.76 308.7v1.5M57.1 308.7v1.5M58.28 308.7v1.5M59.34 308.7v2.6M66.31 308.7v1.5M70.38 308.7v1.5M73.27 308.7v1.5M75.51 308.7v1.5M77.35 308.7v1.5M78.9 308.7v1.5M80.24 308.7v1.5M81.42 308.7v1.5M82.48 308.7v2.6M89.45 308.7v1.5M93.52 308.7v1.5M96.41 308.7v1.5M98.65 308.7v1.5M100.49 308.7v1.5M102.04 308.7v1.5M103.38 308.7v1.5M104.56 308.7v1.5M105.62 308.7v2.6M112.59 308.7v1.5M116.66 308.7v1.5M119.55 308.7v1.5M121.79 308.7v1.5M123.63 308.7v1.5M125.18 308.7v1.5M126.52 308.7v1.5M127.7 308.7v1.5M128.76 308.7v2.6M135.73 308.7v1.5M139.8 308.7v1.5M142.69 308.7v1.5M144.93 308.7v1.5M146.77 308.7v1.5M148.32 308.7v1.5M149.66 308.7v1.5M150.84 308.7v1.5M151.9 308.7v2.6M158.87 308.7v1.5M162.94 308.7v1.5M165.83 308.7v1.5M168.07 308.7v1.5M169.91 308.7v1.5M171.46 308.7v1.5M172.8 308.7v1.5M173.98 308.7v1.5M175.04 308.7v2.6" stroke="#1a1a1a" stroke-width="0.8" fill="none"/><text transform="translate(36.2 317.2) scale(0.9 1)" font-size="6.22" text-anchor="middle">0</text><text transform="translate(58.44 317.2) scale(0.9 1)" font-size="6.22" text-anchor="middle">0.001</text><text transform="translate(81.78 317.2) scale(0.9 1)" font-size="6.22" text-anchor="middle">0.01</text><text transform="translate(105.22 317.2) scale(0.9 1)" font-size="6.22" text-anchor="middle">0.1</text><text transform="translate(128.76 317.2) scale(0.9 1)" font-size="6.22" text-anchor="middle">1</text><text transform="translate(151.9 317.2) scale(0.9 1)" font-size="6.22" text-anchor="middle">10</text><text transform="translate(174.54 317.2) scale(0.9 1)" font-size="6.22" text-anchor="middle">100</text><rect x="39" y="296.1" width="61.9" height="8" fill="#fff" stroke="#333" stroke-width="0.8" stroke-linejoin="miter"/><path d="M69 296.1V304.1" stroke="#333" stroke-width="0.8"/><text x="53.01" y="301.7" font-size="5.9" text-anchor="middle">IC<tspan font-size="4.3" dy="1.6">50</tspan></text><text transform="translate(84.8 302.3) scale(0.9 1)" font-size="6.39" text-anchor="middle">12.73</text><path d="M49.7 235.93L50.74 235.93L51.79 235.93L52.83 235.93L53.87 235.93L54.92 235.93L55.96 235.93L57 235.93L58.05 235.93L59.09 235.93L60.13 235.93L61.18 235.93L62.22 235.93L63.26 235.93L64.31 235.93L65.35 235.93L66.39 235.93L67.44 235.93L68.48 235.93L69.52 235.93L70.57 235.93L71.61 235.93L72.65 235.93L73.7 235.93L74.74 235.93L75.78 235.93L76.83 235.93L77.87 235.93L78.91 235.93L79.96 235.93L81 235.93L82.04 235.93L83.09 235.93L84.13 235.93L85.17 235.93L86.22 235.93L87.26 235.93L88.3 235.93L89.35 235.93L90.39 235.93L91.43 235.93L92.48 235.94L93.52 235.94L94.56 235.94L95.61 235.94L96.65 235.94L97.69 235.94L98.74 235.94L99.78 235.94L100.82 235.94L101.87 235.95L102.91 235.95L103.95 235.95L105 235.95L106.04 235.96L107.08 235.96L108.13 235.97L109.17 235.97L110.21 235.98L111.26 235.99L112.3 236L113.34 236.01L114.39 236.03L115.43 236.05L116.47 236.07L117.52 236.1L118.56 236.13L119.6 236.16L120.65 236.21L121.69 236.26L122.73 236.32L123.78 236.39L124.82 236.48L125.86 236.58L126.91 236.7L127.95 236.84L128.99 237.01L130.04 237.21L131.08 237.44L132.12 237.72L133.17 238.05L134.21 238.43L135.25 238.89L136.3 239.42L137.34 240.04L138.38 240.76L139.43 241.6L140.47 242.57L141.51 243.69L142.56 244.98L143.6 246.44L144.64 248.09L145.69 249.94L146.73 252L147.77 254.26L148.82 256.73L149.86 259.39L150.9 262.21L151.95 265.18L152.99 268.24L154.03 271.36L155.08 274.5L156.12 277.6L157.16 280.63L158.21 283.53L159.25 286.29L160.29 288.86L161.34 291.24L162.38 293.42L163.42 295.39L164.47 297.15L165.51 298.71L166.55 300.09L167.6 301.3L168.64 302.36L169.68 303.27L170.73 304.06L171.77 304.73L172.81 305.31L173.86 305.81L174.9 306.23" stroke="#111" stroke-width="1.15" fill="none"/><path d="M63.8 234.4V239.1M62.1 234.4h3.4M62.1 239.1h3.4" stroke="#111" stroke-width="0.8" fill="none"/><path d="M77.7 233.5V237.5M76 233.5h3.4M76 237.5h3.4" stroke="#111" stroke-width="0.8" fill="none"/><path d="M91.5 232V238.5M89.8 232h3.4M89.8 238.5h3.4" stroke="#111" stroke-width="0.8" fill="none"/><path d="M105.3 230.4V237.1M103.6 230.4h3.4M103.6 237.1h3.4" stroke="#111" stroke-width="0.8" fill="none"/><path d="M119.2 231.7V237M117.5 231.7h3.4M117.5 237h3.4" stroke="#111" stroke-width="0.8" fill="none"/><path d="M133.1 234.3V239.7M131.4 234.3h3.4M131.4 239.7h3.4" stroke="#111" stroke-width="0.8" fill="none"/><path d="M147.3 249.9V257.7M145.6 249.9h3.4M145.6 257.7h3.4" stroke="#111" stroke-width="0.8" fill="none"/><circle cx="49.7" cy="240.5" r="2.0" fill="#111"/><circle cx="63.8" cy="236.8" r="2.0" fill="#111"/><circle cx="77.7" cy="235.5" r="2.0" fill="#111"/><circle cx="91.5" cy="235.1" r="2.0" fill="#111"/><circle cx="105.3" cy="234.3" r="2.0" fill="#111"/><circle cx="119.2" cy="234.3" r="2.0" fill="#111"/><circle cx="133.1" cy="237" r="2.0" fill="#111"/><circle cx="147.3" cy="253.7" r="2.0" fill="#111"/><circle cx="161" cy="290.3" r="2.0" fill="#111"/><circle cx="174.9" cy="306.3" r="2.0" fill="#111"/></g>
<g><text class="t" transform="translate(273.4 224.5) scale(1 1)" font-size="5.85" text-anchor="middle">CT-26 (Murine) Colorectal carcinoma</text><path d="M204 227V310.1" stroke="#1a1a1a" stroke-width="1.0" fill="none"/><path d="M201 307.5H204" stroke="#1a1a1a" stroke-width="0.9"/><text transform="translate(199.9 309.8) scale(0.9 1)" font-size="6.39" text-anchor="end">0</text><path d="M201 291.48H204" stroke="#1a1a1a" stroke-width="0.9"/><text transform="translate(199.9 293.78) scale(0.9 1)" font-size="6.39" text-anchor="end">10,000</text><path d="M201 275.46H204" stroke="#1a1a1a" stroke-width="0.9"/><text transform="translate(199.9 277.76) scale(0.9 1)" font-size="6.39" text-anchor="end">20,000</text><path d="M201 259.44H204" stroke="#1a1a1a" stroke-width="0.9"/><text transform="translate(199.9 261.74) scale(0.9 1)" font-size="6.39" text-anchor="end">30,000</text><path d="M201 243.42H204" stroke="#1a1a1a" stroke-width="0.9"/><text transform="translate(199.9 245.72) scale(0.9 1)" font-size="6.39" text-anchor="end">40,000</text><path d="M201 227.4H204" stroke="#1a1a1a" stroke-width="0.9"/><text transform="translate(199.9 229.7) scale(0.9 1)" font-size="6.39" text-anchor="end">50,000</text><path d="M201.5 307.5H344.72" stroke="#1a1a1a" stroke-width="1.05" fill="none"/><path d="M204 307.5v2.6M211.04 307.5v1.5M215.15 307.5v1.5M218.07 307.5v1.5M220.33 307.5v1.5M222.19 307.5v1.5M223.75 307.5v1.5M225.11 307.5v1.5M226.3 307.5v1.5M227.37 307.5v2.6M234.41 307.5v1.5M238.52 307.5v1.5M241.44 307.5v1.5M243.7 307.5v1.5M245.56 307.5v1.5M247.12 307.5v1.5M248.48 307.5v1.5M249.67 307.5v1.5M250.74 307.5v2.6M257.78 307.5v1.5M261.89 307.5v1.5M264.81 307.5v1.5M267.07 307.5v1.5M268.93 307.5v1.5M270.49 307.5v1.5M271.85 307.5v1.5M273.04 307.5v1.5M274.11 307.5v2.6M281.15 307.5v1.5M285.26 307.5v1.5M288.18 307.5v1.5M290.44 307.5v1.5M292.3 307.5v1.5M293.86 307.5v1.5M295.22 307.5v1.5M296.41 307.5v1.5M297.48 307.5v2.6M304.52 307.5v1.5M308.63 307.5v1.5M311.55 307.5v1.5M313.81 307.5v1.5M315.67 307.5v1.5M317.23 307.5v1.5M318.59 307.5v1.5M319.78 307.5v1.5M320.85 307.5v2.6M327.89 307.5v1.5M332 307.5v1.5M334.92 307.5v1.5M337.18 307.5v1.5M339.04 307.5v1.5M340.6 307.5v1.5M341.96 307.5v1.5M343.15 307.5v1.5M344.22 307.5v2.6" stroke="#1a1a1a" stroke-width="0.8" fill="none"/><text transform="translate(204 316) scale(0.9 1)" font-size="6.22" text-anchor="middle">0</text><text transform="translate(226.47 316) scale(0.9 1)" font-size="6.22" text-anchor="middle">0.001</text><text transform="translate(250.04 316) scale(0.9 1)" font-size="6.22" text-anchor="middle">0.01</text><text transform="translate(273.71 316) scale(0.9 1)" font-size="6.22" text-anchor="middle">0.1</text><text transform="translate(297.48 316) scale(0.9 1)" font-size="6.22" text-anchor="middle">1</text><text transform="translate(320.85 316) scale(0.9 1)" font-size="6.22" text-anchor="middle">10</text><text transform="translate(343.72 316) scale(0.9 1)" font-size="6.22" text-anchor="middle">100</text><rect x="207.6" y="295.6" width="63.7" height="7.8" fill="#fff" stroke="#333" stroke-width="0.8" stroke-linejoin="miter"/><path d="M240.1 295.6V303.4" stroke="#333" stroke-width="0.8"/><text x="224.01" y="301.1" font-size="5.9" text-anchor="middle">IC<tspan font-size="4.3" dy="1.6">50</tspan></text><text transform="translate(257 301.7) scale(0.9 1)" font-size="6.39" text-anchor="middle">0.1049</text><path d="M217.6 236.43L218.65 236.43L219.7 236.43L220.76 236.43L221.81 236.43L222.86 236.43L223.91 236.43L224.97 236.43L226.02 236.43L227.07 236.43L228.12 236.43L229.18 236.43L230.23 236.43L231.28 236.43L232.33 236.43L233.39 236.43L234.44 236.43L235.49 236.43L236.54 236.43L237.6 236.43L238.65 236.44L239.7 236.44L240.75 236.44L241.81 236.44L242.86 236.45L243.91 236.46L244.97 236.46L246.02 236.47L247.07 236.49L248.12 236.51L249.17 236.53L250.23 236.56L251.28 236.6L252.33 236.66L253.38 236.73L254.44 236.82L255.49 236.93L256.54 237.09L257.59 237.29L258.65 237.55L259.7 237.89L260.75 238.32L261.81 238.88L262.86 239.6L263.91 240.52L264.96 241.68L266.01 243.13L267.07 244.93L268.12 247.12L269.17 249.75L270.22 252.83L271.28 256.36L272.33 260.28L273.38 264.52L274.44 268.92L275.49 273.36L276.54 277.66L277.59 281.69L278.64 285.34L279.7 288.57L280.75 291.33L281.8 293.65L282.85 295.57L283.91 297.12L284.96 298.36L286.01 299.35L287.06 300.12L288.12 300.73L289.17 301.2L290.22 301.56L291.27 301.84L292.33 302.06L293.38 302.23L294.43 302.36L295.49 302.45L296.54 302.53L297.59 302.59L298.64 302.63L299.69 302.67L300.75 302.69L301.8 302.71L302.85 302.73L303.9 302.74L304.96 302.75L306.01 302.75L307.06 302.76L308.12 302.76L309.17 302.77L310.22 302.77L311.27 302.77L312.32 302.77L313.38 302.77L314.43 302.77L315.48 302.77L316.53 302.77L317.59 302.77L318.64 302.78L319.69 302.78L320.75 302.78L321.8 302.78L322.85 302.78L323.9 302.78L324.95 302.78L326.01 302.78L327.06 302.78L328.11 302.78L329.16 302.78L330.22 302.78L331.27 302.78L332.32 302.78L333.38 302.78L334.43 302.78L335.48 302.78L336.53 302.78L337.58 302.78L338.64 302.78L339.69 302.78L340.74 302.78L341.79 302.78L342.85 302.78L343.9 302.78" stroke="#111" stroke-width="1.15" fill="none"/><path d="M273.7 259.4V273.6M272 259.4h3.4M272 273.6h3.4" stroke="#111" stroke-width="0.8" fill="none"/><rect x="215.7" y="236.9" width="3.8" height="3.8" fill="#111"/><circle cx="231.6" cy="236.5" r="2.0" fill="#111"/><circle cx="245.5" cy="234.7" r="2.0" fill="#111"/><circle cx="259.6" cy="236.8" r="2.0" fill="#111"/><circle cx="273.7" cy="266.5" r="2.0" fill="#111"/><circle cx="287.6" cy="300" r="2.0" fill="#111"/><circle cx="302" cy="302" r="2.0" fill="#111"/><circle cx="315.8" cy="303.4" r="2.0" fill="#111"/><circle cx="330" cy="302.9" r="2.0" fill="#111"/><circle cx="343.9" cy="302.9" r="2.0" fill="#111"/></g>
<g><text class="t" transform="translate(450.4 224.2) scale(1 1)" font-size="5.85" text-anchor="middle">MC-38 (Murine) Colorectal carcinoma</text><path d="M375 226.85V310.6" stroke="#1a1a1a" stroke-width="1.0" fill="none"/><path d="M372 308H375" stroke="#1a1a1a" stroke-width="0.9"/><text transform="translate(370.9 310.3) scale(0.9 1)" font-size="6.39" text-anchor="end">0</text><path d="M372 281.08H375" stroke="#1a1a1a" stroke-width="0.9"/><text transform="translate(370.9 283.38) scale(0.9 1)" font-size="6.39" text-anchor="end">20,000</text><path d="M372 254.17H375" stroke="#1a1a1a" stroke-width="0.9"/><text transform="translate(370.9 256.47) scale(0.9 1)" font-size="6.39" text-anchor="end">40,000</text><path d="M372 227.25H375" stroke="#1a1a1a" stroke-width="0.9"/><text transform="translate(370.9 229.55) scale(0.9 1)" font-size="6.39" text-anchor="end">60,000</text><path d="M372.5 308H515.72" stroke="#1a1a1a" stroke-width="1.05" fill="none"/><path d="M375 308v2.6M382.04 308v1.5M386.15 308v1.5M389.07 308v1.5M391.33 308v1.5M393.19 308v1.5M394.75 308v1.5M396.11 308v1.5M397.3 308v1.5M398.37 308v2.6M405.41 308v1.5M409.52 308v1.5M412.44 308v1.5M414.7 308v1.5M416.56 308v1.5M418.12 308v1.5M419.48 308v1.5M420.67 308v1.5M421.74 308v2.6M428.78 308v1.5M432.89 308v1.5M435.81 308v1.5M438.07 308v1.5M439.93 308v1.5M441.49 308v1.5M442.85 308v1.5M444.04 308v1.5M445.11 308v2.6M452.15 308v1.5M456.26 308v1.5M459.18 308v1.5M461.44 308v1.5M463.3 308v1.5M464.86 308v1.5M466.22 308v1.5M467.41 308v1.5M468.48 308v2.6M475.52 308v1.5M479.63 308v1.5M482.55 308v1.5M484.81 308v1.5M486.67 308v1.5M488.23 308v1.5M489.59 308v1.5M490.78 308v1.5M491.85 308v2.6M498.89 308v1.5M503 308v1.5M505.92 308v1.5M508.18 308v1.5M510.04 308v1.5M511.6 308v1.5M512.96 308v1.5M514.15 308v1.5M515.22 308v2.6" stroke="#1a1a1a" stroke-width="0.8" fill="none"/><text transform="translate(375 316.5) scale(0.9 1)" font-size="6.22" text-anchor="middle">0</text><text transform="translate(397.47 316.5) scale(0.9 1)" font-size="6.22" text-anchor="middle">0.001</text><text transform="translate(421.04 316.5) scale(0.9 1)" font-size="6.22" text-anchor="middle">0.01</text><text transform="translate(444.71 316.5) scale(0.9 1)" font-size="6.22" text-anchor="middle">0.1</text><text transform="translate(468.48 316.5) scale(0.9 1)" font-size="6.22" text-anchor="middle">1</text><text transform="translate(491.85 316.5) scale(0.9 1)" font-size="6.22" text-anchor="middle">10</text><text transform="translate(514.72 316.5) scale(0.9 1)" font-size="6.22" text-anchor="middle">100</text><rect x="378.7" y="295.7" width="63.9" height="7.8" fill="#fff" stroke="#333" stroke-width="0.8" stroke-linejoin="miter"/><path d="M411 295.7V303.5" stroke="#333" stroke-width="0.8"/><text x="394.01" y="301.2" font-size="5.9" text-anchor="middle">IC<tspan font-size="4.3" dy="1.6">50</tspan></text><text transform="translate(427.5 301.8) scale(0.9 1)" font-size="6.39" text-anchor="middle">0.1241</text><path d="M388.9 240.81L389.96 240.81L391.01 240.81L392.07 240.81L393.13 240.81L394.18 240.81L395.24 240.81L396.3 240.81L397.35 240.81L398.41 240.82L399.47 240.82L400.52 240.82L401.58 240.82L402.64 240.82L403.69 240.82L404.75 240.82L405.81 240.82L406.86 240.82L407.92 240.82L408.98 240.82L410.03 240.82L411.09 240.82L412.15 240.82L413.2 240.83L414.26 240.83L415.32 240.83L416.37 240.84L417.43 240.85L418.49 240.86L419.54 240.87L420.6 240.89L421.66 240.91L422.71 240.94L423.77 240.98L424.83 241.03L425.88 241.09L426.94 241.18L428 241.29L429.05 241.43L430.11 241.62L431.17 241.86L432.22 242.18L433.28 242.59L434.34 243.11L435.39 243.79L436.45 244.65L437.51 245.74L438.56 247.11L439.62 248.8L440.68 250.88L441.73 253.37L442.79 256.3L443.85 259.67L444.9 263.43L445.96 267.49L447.02 271.75L448.07 276.05L449.13 280.23L450.19 284.17L451.24 287.76L452.3 290.92L453.36 293.65L454.41 295.95L455.47 297.84L456.53 299.38L457.58 300.61L458.64 301.59L459.7 302.36L460.75 302.96L461.81 303.43L462.87 303.79L463.92 304.08L464.98 304.29L466.04 304.46L467.09 304.59L468.15 304.68L469.21 304.76L470.26 304.82L471.32 304.86L472.38 304.89L473.43 304.92L474.49 304.94L475.55 304.95L476.6 304.97L477.66 304.97L478.72 304.98L479.77 304.99L480.83 304.99L481.89 304.99L482.94 305L484 305L485.06 305L486.11 305L487.17 305L488.23 305L489.28 305L490.34 305L491.4 305L492.45 305L493.51 305L494.57 305L495.62 305L496.68 305L497.74 305L498.79 305L499.85 305L500.91 305L501.96 305L503.02 305L504.08 305L505.13 305L506.19 305L507.25 305L508.3 305L509.36 305L510.42 305L511.47 305L512.53 305L513.59 305L514.64 305L515.7 305" stroke="#111" stroke-width="1.15" fill="none"/><path d="M445 260.3V267.6M443.3 260.3h3.4M443.3 267.6h3.4" stroke="#111" stroke-width="0.8" fill="none"/><rect x="387" y="242.8" width="3.8" height="3.8" fill="#111"/><circle cx="402.8" cy="243.2" r="2.0" fill="#111"/><circle cx="416.9" cy="239.6" r="2.0" fill="#111"/><rect x="429.2" y="234.6" width="3.8" height="3.8" fill="#111"/><circle cx="445" cy="264.3" r="2.0" fill="#111"/><circle cx="459.4" cy="300" r="2.0" fill="#111"/><circle cx="473.5" cy="304.7" r="2.0" fill="#111"/><circle cx="487.8" cy="305.6" r="2.0" fill="#111"/><circle cx="501.7" cy="305.8" r="2.0" fill="#111"/><circle cx="515.7" cy="305.8" r="2.0" fill="#111"/></g>
<text transform="translate(4.4 46.5) rotate(-90)" font-size="6" text-anchor="middle" class="t">RLU</text>
<text transform="translate(4.4 158.9) rotate(-90)" font-size="6" text-anchor="middle" class="t">RLU</text>
<text transform="translate(4.4 266.3) rotate(-90)" font-size="6" text-anchor="middle" class="t">RLU</text>
<text x="105.2" y="326" font-size="6" text-anchor="middle" class="t">MOI</text>
<text x="274.6" y="326" font-size="6" text-anchor="middle" class="t">MOI</text>
<text x="444.6" y="326" font-size="6" text-anchor="middle" class="t">MOI</text>
</g>
</svg></body></html>
